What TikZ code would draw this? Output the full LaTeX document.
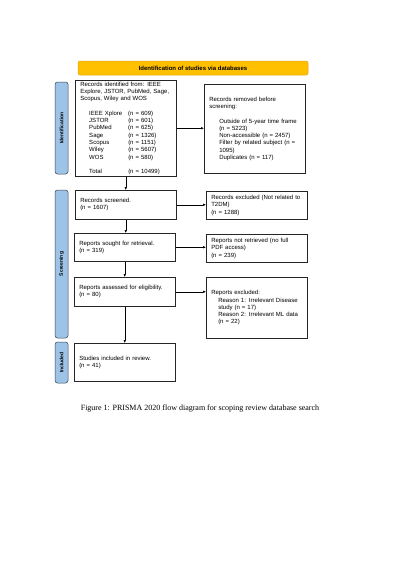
\documentclass[tikz,border=0pt]{standalone}
\usepackage{fontspec}
\setmainfont{Liberation Sans}
\newfontfamily\capfont{Liberation Serif}
\usetikzlibrary{arrows.meta,positioning}
\definecolor{tabblue}{RGB}{157,195,230}
\definecolor{tabline}{RGB}{60,70,85}
\definecolor{bannerfill}{RGB}{255,192,0}
\definecolor{bannerline}{RGB}{230,165,20}
\newcommand{\srcrow}[2]{\hspace*{9pt}\makebox[39pt][l]{#1}(n = #2)}
\newcommand{\ind}[1]{\hspace*{#1}}

\begin{document}
\begin{tikzpicture}[x=1pt,y=-1pt,
box/.style={draw=black!85,line width=0.5pt,anchor=north west,align=left,text width=91pt,inner xsep=5pt,inner ysep=0pt,font=\fontsize{6}{7.3}\selectfont},
tab/.style={draw=tabline,fill=tabblue,line width=0.5pt,rounded corners=2.5pt,rotate=90,minimum height=13pt,inner sep=0pt,font=\bfseries\fontsize{5}{6}\selectfont},
banner/.style={draw=bannerline,fill=bannerfill,line width=0.5pt,rounded corners=2pt,minimum width=230pt,minimum height=14pt,inner sep=0pt,font=\bfseries\fontsize{6}{7}\selectfont},
arr/.style={-{Latex[length=3pt,width=2.6pt]},line width=0.5pt}]
\fill[white](0,0)rectangle(400,566);
\useasboundingbox(0,0)rectangle(400,566);
% heading and phase tabs
\node[banner](head)at(193,68){Identification of studies via databases};
\node[tab,minimum width=92pt](idtab)at(61.5,128){Identification};
\node[tab,minimum width=148pt](sctab)at(61.5,264){Screening};
\node[tab,minimum width=41pt](intab)at(61.5,362.5){Included};
% left column
\node[box,minimum height=96pt](ident)at(75,80){Records identified from: IEEE\\Explore, JSTOR, PubMed, Sage,\\Scopus, Wiley and WOS\\[7.3pt]
\srcrow{IEEE Xplore}{609}\\\srcrow{JSTOR}{601}\\\srcrow{PubMed}{625}\\\srcrow{Sage}{1326}\\\srcrow{Scopus}{1151}\\\srcrow{Wiley}{5607}\\\srcrow{WOS}{580}\\[7.3pt]
\srcrow{Total}{10499}};
\node[box,minimum height=29pt](screened)at(75,190){Records screened.\\(n = 1607)};
\node[box,minimum height=28pt](sought)at(74,233){Reports sought for retrieval.\\(n = 319)};
\node[box,minimum height=29pt](assessed)at(74,277){Reports assessed for eligibility.\\(n = 80)};
\node[box,minimum height=38pt](included)at(74,343){Studies included in review.\\(n = 41)};
% right column
\node[box,minimum height=89pt](removed)at(204,84){Records removed before\\screening:\\[7.3pt]
\ind{10pt}Outside of 5-year time frame\\\ind{10pt}(n = 5223)\\\ind{10pt}Non-accessible (n = 2457)\\\ind{10pt}Filter by related subject (n =\\\ind{10pt}1095)\\\ind{10pt}Duplicates (n = 117)};
\node[box,minimum height=28pt](excluded)at(206,191){Records excluded (Not related to\\T2DM)\\(n = 1288)};
\node[box,minimum height=28pt](notret)at(206,234){Reports not retrieved (no full\\PDF access)\\(n = 239)};
\node[box,minimum height=61pt](repexcl)at(206,277){Reports excluded:\\\ind{7pt}Reason 1: Irrelevant Disease\\\ind{7pt}study (n = 17)\\\ind{7pt}Reason 2: Irrelevant ML data\\\ind{7pt}(n = 22)};
\node[font=\capfont\fontsize{8}{9.5}\selectfont](caption)at(200,409){Figure 1: PRISMA 2020 flow diagram for scoping review database search};
% connectors
\draw[arr](ident.south)--(ident.south|-screened.north);
\draw[arr](screened.south)--(screened.south|-sought.north);
\draw[arr](sought.south)--(sought.south|-assessed.north);
\draw[arr](assessed.south)--(assessed.south|-included.north);
\draw[arr](ident.east)--(ident.east-|removed.west);
\draw[arr](screened.east)--(screened.east-|excluded.west);
\draw[arr](sought.east)--(sought.east-|notret.west);
\draw[arr](assessed.east)--(assessed.east-|repexcl.west);
\end{tikzpicture}
\end{document}
